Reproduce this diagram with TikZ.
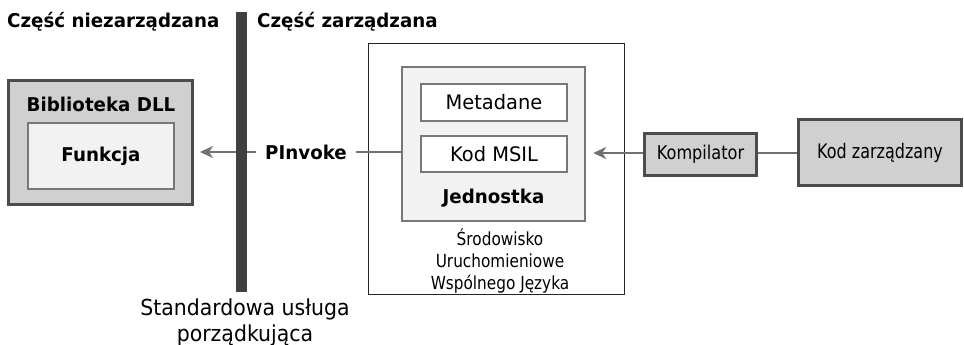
\documentclass[tikz,border=0pt]{standalone}
\usepackage{fontspec}
\setmainfont{DejaVu Sans}[FakeStretch=0.85, BoldFeatures={FakeStretch=0.96}]
\newfontfamily\fwide{DejaVu Sans}[FakeStretch=0.97]
\newfontfamily\fnarrow{DejaVu Sans}[FakeStretch=0.80]
\newfontfamily\ffoot{DejaVu Sans}[FakeStretch=0.93]
\usetikzlibrary{arrows.meta}
\definecolor{boxgray}{HTML}{D0D0D0}
\definecolor{boxlight}{HTML}{F2F2F2}
\definecolor{borderdark}{HTML}{4C4C4C}
\definecolor{bordermid}{HTML}{787878}
\definecolor{conncol}{HTML}{707070}
\definecolor{barcol}{HTML}{404040}
\begin{document}
\begin{tikzpicture}[x=1pt,y=-1pt,
  lbl/.style={font=\fontsize{19}{22}\selectfont, inner sep=0pt},
  blbl/.style={font=\fontsize{19}{22}\selectfont\bfseries, inner sep=0pt},
  darkbox/.style={draw=borderdark, fill=boxgray, line width=3pt, inner sep=0pt},
  lightbox/.style={draw=bordermid, fill=boxlight, line width=2.5pt, inner sep=0pt},
  whitebox/.style={draw=bordermid, fill=white, line width=2pt, inner sep=0pt},
  conn/.style={draw=conncol, line width=2.5pt},
  arr/.style={conn, -{Stealth[length=13pt,width=12pt,inset=4pt]}}
]
\useasboundingbox (0,0) rectangle (964,345);
% headers
\node[blbl, anchor=base west] (hleft) at (7,28) {Część niezarządzana};
\node[blbl, anchor=base west] (hright) at (257,28) {Część zarządzana};
% DLL
\node[darkbox, minimum width=184pt, minimum height=124pt] (dll) at (100.5,142.5) {};
\node[blbl] (dlltxt) at (101,104) {Biblioteka DLL};
\node[lightbox, minimum width=146pt, minimum height=66pt, font=\fontsize{19}{22}\selectfont\bfseries] (fun) at (101,156) {Funkcja};
% PInvoke
\node[blbl, inner sep=0pt, minimum width=100pt, minimum height=20pt] (pinv) at (306,152) {PInvoke};
\draw[arr, shorten >=6pt] (pinv.west) -- (dll.east |- pinv.west);
% bar
\node[fill=barcol, minimum width=11pt, minimum height=280pt, inner sep=0pt] (bar) at (241.5,152) {};
% CLR
\node[draw=black!85, fill=white, line width=1.5pt, minimum width=256pt, minimum height=251pt, inner sep=0pt] (clr) at (496.5,169) {};
\node[lightbox, minimum width=183pt, minimum height=154pt] (jed) at (493.5,144) {};
\node[whitebox, minimum width=146pt, minimum height=37pt, font=\fontsize{20}{22}\fwide] (meta) at (494,102.5) {Metadane};
\node[whitebox, minimum width=146pt, minimum height=36pt, font=\fontsize{20}{22}\fwide] (msil) at (494,154) {Kod MSIL};
\node[blbl] (jedtxt) at (493.5,198) {Jednostka};
\node[lbl, align=center, font=\fontsize{18}{22}\selectfont] (clrtxt) at (500,261) {Środowisko\\Uruchomieniowe\\Wspólnego Języka};
\draw[conn] (pinv.east) -- (jed.west |- pinv.east);
% Compiler
\node[darkbox, minimum width=112pt, minimum height=42pt, font=\fontsize{19}{22}\selectfont] (komp) at (700.5,154.5) {Kompilator};
\node[darkbox, minimum width=163pt, minimum height=66pt, font=\fontsize{20}{22}\fnarrow] (kod) at (880,152.5) {Kod zarządzany};
\draw[arr, shorten >=7pt] (komp.west |- 0,153) -- (jed.east |- 0,153);
\draw[conn] (komp.east |- 0,153) -- (kod.west |- 0,153);
% footer
\node[lbl, align=center, font=\fontsize{22}{26}\ffoot] (foot) at (245,322) {Standardowa usługa\\porządkująca};
\end{tikzpicture}
\end{document}
